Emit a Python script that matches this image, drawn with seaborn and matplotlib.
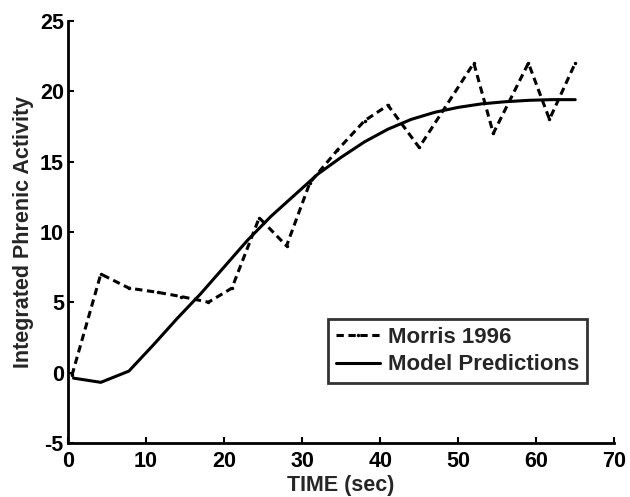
import numpy as np
import pandas as pd
import matplotlib
matplotlib.use('Agg')
import matplotlib.pyplot as plt
import seaborn as sns

# data
morris_t = [0.5, 4.2, 7.8, 11.5, 14.5, 18, 21, 24.5, 28, 31, 34.5, 38, 41, 45, 52, 54.5, 59, 61.7, 65]
morris_y = [-0.2, 7, 6, 5.7, 5.4, 5, 6, 11, 9, 13.5, 15.8, 17.9, 19, 16, 22, 17, 22, 18, 22]

model_t = [0.7, 4.2, 7.8, 11, 14, 17, 20, 23, 26, 29, 32, 35, 38, 41, 44, 47, 50, 53, 56, 59, 62, 65]
model_y = [-0.4, -0.7, 0.1, 2.0, 3.85, 5.6, 7.5, 9.4, 11.1, 12.6, 14.1, 15.3, 16.4, 17.3, 18.0, 18.5,
           18.85, 19.1, 19.25, 19.35, 19.4, 19.4]

sns.set_style('white')
plt.rcParams['font.family'] = ['Liberation Sans', 'DejaVu Sans']
plt.rcParams['font.weight'] = 'bold'
plt.rcParams['axes.unicode_minus'] = False

fig = plt.figure(figsize=(6.3, 4.97), dpi=100)
ax = fig.add_axes([0.108, 0.109, 0.867, 0.849])

morris = pd.DataFrame({'t': morris_t, 'y': morris_y})
model = pd.DataFrame({'t': model_t, 'y': model_y})

sns.lineplot(data=morris, x='t', y='y', ax=ax, color='black', lw=2.2,
             linestyle=(0, (2.4, 1.5)), marker='o', markersize=2.5,
             markeredgewidth=0, label='Morris 1996')
sns.lineplot(data=model, x='t', y='y', ax=ax, color='black', lw=2.2,
             label='Model Predictions')

ax.set_xlim(0, 70)
ax.set_ylim(-5, 25)
ax.set_xticks(range(0, 71, 10))
ax.set_yticks(range(-5, 26, 5))
ax.spines[['top', 'right']].set_visible(False)
for s in ['left', 'bottom']:
    ax.spines[s].set_linewidth(2)
    ax.spines[s].set_color('black')
ax.tick_params(direction='in', length=4, width=1.5, labelsize=15.5, colors='black',
               left=True, bottom=True)
ax.tick_params(axis='x', pad=6)
ax.tick_params(axis='y', pad=3)
for lbl in ax.get_xticklabels() + ax.get_yticklabels():
    lbl.set_fontweight('bold')

ax.set_xlabel('TIME (sec)', fontsize=15.5, fontweight='bold', labelpad=2)
ax.set_ylabel('Integrated Phrenic Activity', fontsize=15.5, fontweight='bold', labelpad=4)

leg = ax.legend(loc='lower left', bbox_to_anchor=(0.476, 0.1416), fontsize=16,
                frameon=True, fancybox=False, edgecolor='black', handlelength=2.0,
                handletextpad=0.35, borderpad=0.35, labelspacing=0.3, borderaxespad=0)
leg.get_frame().set_linewidth(2)
for t in leg.get_texts():
    t.set_fontweight('bold')

fig.savefig('out.png', dpi=100)
